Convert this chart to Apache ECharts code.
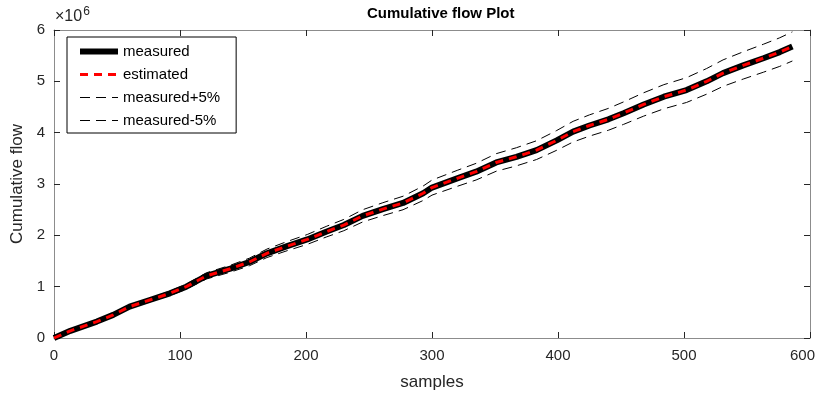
<!DOCTYPE html>
<html lang="en">
<head>
    <meta charset="UTF-8">
    <script src="https://cdn.jsdelivr.net/npm/echarts@6/dist/echarts.min.js"></script>
    <title>Cumulative flow Plot</title>
    <style>html, body { margin: 0; padding: 0; overflow: hidden; }</style>
</head>
<body>
<div id="flowChart" style="width:817px;height:395px;"></div>
<script type="text/javascript">
    // data (flow in units of 10^6)
    var samples = [0, 13, 34, 47, 60, 76, 92, 105, 121, 140, 155, 169, 185, 201, 216, 230, 245, 261, 277, 293,
        300, 320, 335, 351, 367, 383, 399, 412, 425, 440, 452, 468, 484, 502, 518, 531, 547, 563, 576, 586];
    var measured = [0, 0.14, 0.32, 0.45, 0.61, 0.74, 0.87, 1.0, 1.21, 1.35, 1.48, 1.65, 1.79, 1.92, 2.07, 2.2, 2.38, 2.51, 2.63, 2.82,
        2.93, 3.11, 3.24, 3.42, 3.53, 3.66, 3.85, 4.02, 4.14, 4.26, 4.38, 4.55, 4.70, 4.83, 5.0, 5.16, 5.31, 5.45, 5.57, 5.68];
    var estimated = measured.slice();
    var xTicks = [0, 100, 200, 300, 400, 500, 600];
    var yTicks = [0, 1, 2, 3, 4, 5, 6];

    function pairs(vals, k) {
        var out = [];
        for (var i = 0; i < samples.length; i++) out.push([samples[i], vals[i] * k]);
        return out;
    }

    var flowChart = echarts.init(document.getElementById('flowChart'));
    var font = 'Liberation Sans, Arial, sans-serif';
    var axisCol = '#8c8c8c';
    var xMax = xTicks[xTicks.length - 1];

    function xAx(pos, show) {
        return {
            type: 'value', position: pos, min: xTicks[0], max: xMax, interval: 100,
            name: show ? 'samples' : '', nameLocation: 'middle', nameGap: 36,
            nameTextStyle: {fontFamily: font, fontSize: 17, color: '#262626'},
            axisLine: {show: true, onZero: false, lineStyle: {color: axisCol, width: 1}},
            axisTick: {show: true, inside: true, length: 6, lineStyle: {color: '#262626'}},
            axisLabel: {
                show: show, fontFamily: font, fontSize: 15, color: '#262626', margin: 10,
                // last label is pulled inside the figure like in the original
                formatter: function (v) { return v === xMax ? '{m|' + v + '}' : '' + v; },
                rich: {m: {fontFamily: font, fontSize: 15, color: '#262626', padding: [0, 15, 0, 0]}}
            },
            splitLine: {show: false}
        };
    }
    function yAx(pos, show) {
        return {
            type: 'value', position: pos, min: yTicks[0], max: yTicks[yTicks.length - 1], interval: 1,
            name: show ? 'Cumulative flow' : '', nameLocation: 'middle', nameGap: 17,
            nameTextStyle: {fontFamily: font, fontSize: 17, color: '#262626'},
            axisLine: {show: true, onZero: false, lineStyle: {color: axisCol, width: 1}},
            axisTick: {show: true, inside: true, length: 6, lineStyle: {color: '#262626'}},
            axisLabel: {show: show, fontFamily: font, fontSize: 15, color: '#262626', margin: 9},
            splitLine: {show: false}
        };
    }

    var option = {
        animation: false,
        title: {
            text: 'Cumulative flow Plot', left: 362, top: 1,
            textStyle: {fontFamily: font, fontSize: 15, fontWeight: 'bold', color: '#000'}
        },
        grid: {left: 54, right: 7, top: 30, bottom: 57, outerBoundsMode: 'none', containLabel: false},
        graphic: [{
            type: 'text', left: 55, top: 6,
            style: {
                text: '×10{s|6}', fontFamily: font, fontSize: 16, fill: '#262626',
                rich: {s: {fontSize: 12, fontFamily: font, fill: '#262626', verticalAlign: 'top', padding: [0, 0, 10, 1]}}
            }
        }],
        legend: {
            orient: 'vertical', left: 67, top: 37,
            padding: [7, 16, 5, 10], itemGap: 8, itemWidth: 38, itemHeight: 15,
            borderColor: '#000', borderWidth: 1, backgroundColor: '#fff',
            itemStyle: {opacity: 0},
            textStyle: {fontFamily: font, fontSize: 15, color: '#000'},
            data: [
                {name: 'measured', lineStyle: {width: 6}},
                {name: 'estimated', lineStyle: {width: 3}},
                {name: 'measured+5%', lineStyle: {width: 1}},
                {name: 'measured-5%', lineStyle: {width: 1}}
            ]
        },
        xAxis: [xAx('bottom', true), xAx('top', false)],
        yAxis: [yAx('left', true), yAx('right', false)],
        series: [
            {
                name: 'measured+5%', type: 'line', symbol: 'none', color: '#000',
                data: pairs(measured, 1.05),
                lineStyle: {color: '#000', width: 1, type: [10, 6]}, z: 1
            },
            {
                name: 'measured-5%', type: 'line', symbol: 'none', color: '#000',
                data: pairs(measured, 0.95),
                lineStyle: {color: '#000', width: 1, type: [10, 6]}, z: 1
            },
            {
                name: 'measured', type: 'line', symbol: 'none', color: '#000',
                data: pairs(measured, 1),
                lineStyle: {color: '#000', width: 6}, z: 2
            },
            {
                name: 'estimated', type: 'line', symbol: 'none', color: '#ff0000',
                data: pairs(estimated, 1),
                lineStyle: {color: '#ff0000', width: 3, type: [8, 6]}, z: 3
            }
        ]
    };
    flowChart.setOption(option);
    window.onresize = function () { flowChart.resize(); };
</script>
</body>
</html>
